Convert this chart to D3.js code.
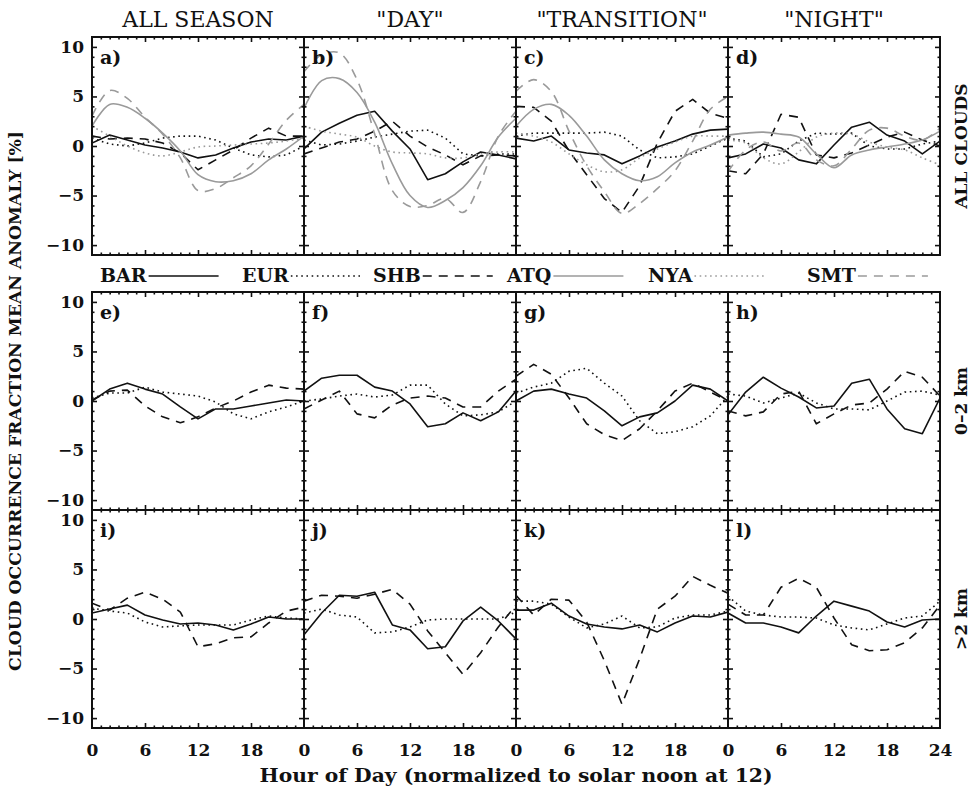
<!DOCTYPE html>
<html>
<head>
<meta charset="utf-8">
<script src="https://cdn.jsdelivr.net/npm/d3@7"></script>
<style>
  body { margin: 0; background: #fff; }
  svg { display: block; font-family: "DejaVu Serif", serif; }
</style>
</head>
<body>
<svg id="chart" width="972" height="790"></svg>
<script>
(function () {
  const HOURS = [0, 2, 4, 6, 8, 10, 12, 14, 16, 18, 20, 22, 24];
  const SITES = ['BAR', 'EUR', 'SHB', 'ATQ', 'NYA', 'SMT'];
  const COLUMN_TITLES = ['ALL SEASON', '"DAY"', '"TRANSITION"', '"NIGHT"'];
  const ROW_TITLES = ['ALL CLOUDS', '0\u20132 km', '>2 km'];
  const PANEL_LETTERS = ['a)', 'b)', 'c)', 'd)', 'e)', 'f)', 'g)', 'h)', 'i)', 'j)', 'k)', 'l)'];
  const X_TICKS = [0, 6, 12, 18];
  const X_TICKS_LAST = [0, 6, 12, 18, 24];
  const Y_TICKS = [10, 5, 0, -5, -10];

  const PANEL_A = {
    BAR: [0.3, 1.1, 0.6, 0.1, -0.2, -0.6, -1.2, -0.9, -0.2, 0.4, 0.7, 0.6, 1.0],
    EUR: [0.8, 0.2, 0.0, 0.3, 0.8, 1.0, 1.0, 0.6, -0.2, -0.9, -1.1, -0.9, 0.0],
    SHB: [1.0, 0.7, 0.8, 0.7, 0.3, -0.7, -2.4, -1.4, -0.4, 0.8, 1.8, 1.0, 1.0],
    ATQ: [2.0, 4.2, 3.9, 2.8, 1.3, -0.5, -2.9, -3.6, -3.5, -2.8, -1.4, -0.3, 1.0],
    NYA: [2.0, 1.0, 0.0, -0.7, -1.0, -0.6, -0.1, 0.0, 0.1, 0.2, 0.3, 0.5, 0.8],
    SMT: [3.0, 5.6, 4.8, 2.9, 1.2, -1.2, -4.5, -4.3, -3.2, -2.0, 0.2, 2.6, 4.2]
  };
  const PANEL_B = {
    BAR: [-0.3, 1.4, 2.3, 3.1, 3.5, 1.5, -0.3, -3.4, -2.8, -1.6, -0.6, -0.9, -1.3],
    EUR: [0.6, 0.1, 0.2, 0.5, 0.9, 1.2, 1.5, 1.6, 0.8, -0.8, -1.0, -0.8, -0.8],
    SHB: [-0.8, -0.2, 0.4, 0.7, 1.5, 2.5, 1.0, -0.1, -0.9, -1.9, -1.0, -0.9, -1.0],
    ATQ: [3.8, 6.6, 6.8, 5.4, 2.4, -1.8, -5.0, -6.2, -5.5, -4.2, -2.0, 0.9, 2.8],
    NYA: [2.0, 1.5, 1.2, 0.9, 0.0, -0.6, -0.7, -0.8, -1.2, -1.2, -0.8, -0.6, -0.6],
    SMT: [7.5, 9.2, 9.4, 6.7, 1.2, -4.5, -6.1, -6.0, -5.3, -6.7, -3.6, 1.0, 3.5]
  };
  const PANEL_C = {
    BAR: [0.8, 0.5, 1.0, -0.4, -0.7, -0.9, -1.8, -1.0, -0.1, 0.5, 1.2, 1.6, 1.7],
    EUR: [1.0, 1.3, 1.3, 1.3, 1.3, 1.4, 1.0, -0.4, -1.2, -1.1, -0.8, 0.0, 0.8],
    SHB: [4.0, 3.9, 2.5, -0.5, -2.9, -5.3, -6.7, -4.0, 0.3, 3.5, 4.7, 3.3, 2.8],
    ATQ: [2.0, 3.7, 4.2, 3.1, 1.0, -1.4, -2.8, -3.5, -3.1, -1.7, -0.6, 0.1, 0.9],
    NYA: [1.3, 1.0, 0.4, -0.8, -1.9, -2.6, -2.4, -1.2, -0.3, 0.4, 1.0, 1.0, 1.0],
    SMT: [5.5, 6.7, 5.5, 1.5, -2.0, -4.6, -6.8, -5.8, -4.3, -2.5, 0.5, 3.7, 5.0]
  };
  const PANEL_D = {
    BAR: [-1.2, -0.8, 0.2, -0.2, -1.4, -1.8, 0.1, 1.9, 2.4, 1.1, 0.5, -0.8, 0.5],
    EUR: [0.8, 0.5, -1.1, -0.8, 0.5, 1.3, 1.2, 1.3, 0.0, -0.3, -0.3, 0.2, 0.5],
    SHB: [-2.5, -2.8, -0.8, 3.2, 2.9, -0.9, -1.2, -0.7, 0.1, 0.9, 1.4, 0.6, 0.0],
    ATQ: [1.1, 1.3, 1.4, 1.2, 0.9, -0.8, -2.2, -0.9, -0.4, -0.1, 0.2, 0.6, 1.5],
    NYA: [0.6, 0.3, -1.2, -1.8, -0.6, 0.9, 1.3, 1.2, 0.4, -0.1, -0.4, -1.2, -1.9],
    SMT: [-2.6, -0.4, 0.4, -0.5, 0.3, -1.4, -2.0, -0.3, 1.6, 1.8, 1.0, 0.6, 1.8]
  };
  const PANEL_E = {
    BAR: [0.0, 1.2, 1.8, 1.2, 0.7, -0.6, -1.8, -0.8, -0.8, -0.5, -0.2, 0.1, 0.0],
    EUR: [0.3, 0.8, 0.8, 1.4, 0.9, 0.7, 0.5, -0.1, -1.3, -1.8, -1.1, -0.6, 0.0],
    SHB: [0.1, 1.0, 1.1, -0.5, -1.6, -2.2, -1.6, -0.7, 0.0, 0.9, 1.6, 1.3, 1.2]
  };
  const PANEL_F = {
    BAR: [1.0, 2.3, 2.6, 2.6, 1.4, 1.0, -0.3, -2.6, -2.3, -1.2, -2.0, -1.1, 1.0],
    EUR: [0.0, 0.2, 0.5, 0.7, 0.4, 0.6, 1.6, 1.6, -0.3, -1.5, -1.4, -1.1, 0.0],
    SHB: [-0.8, 0.1, 1.0, -1.3, -1.7, -0.4, 0.3, 0.5, 0.3, -0.6, -0.6, 1.0, 2.2]
  };
  const PANEL_G = {
    BAR: [0.0, 1.0, 1.2, 0.7, 0.3, -1.0, -2.5, -1.6, -1.2, 0.0, 1.6, 1.2, 0.0],
    EUR: [0.8, 1.4, 1.8, 3.0, 3.3, 1.8, 0.5, -2.0, -3.3, -3.1, -2.6, -1.5, 0.5],
    SHB: [2.5, 3.7, 2.7, 0.3, -2.3, -3.4, -4.0, -2.8, -1.0, 1.0, 1.8, 0.9, 0.0]
  };
  const PANEL_H = {
    BAR: [-1.4, 0.9, 2.4, 1.3, 0.4, -0.7, -0.5, 1.8, 2.2, -0.8, -2.8, -3.3, 0.3],
    EUR: [0.7, 0.5, -0.2, 0.3, 0.8, -0.2, -0.8, -0.8, -0.9, 0.0, 0.9, 1.0, 0.6],
    SHB: [-1.0, -1.5, -1.1, 0.7, 1.0, -2.3, -1.3, -0.4, -0.2, 1.2, 3.0, 2.4, 0.5]
  };
  const PANEL_I = {
    BAR: [0.6, 1.0, 1.4, 0.4, -0.1, -0.5, -0.4, -0.6, -1.1, -0.5, 0.2, 0.0, 0.0],
    EUR: [1.1, 0.8, 0.6, -0.3, -0.8, -0.7, -0.6, -0.6, -0.6, -0.1, 0.3, 0.1, 0.0],
    SHB: [1.6, 0.9, 2.1, 2.7, 2.0, 0.7, -2.8, -2.5, -1.9, -1.8, -0.4, 0.8, 1.2]
  };
  const PANEL_J = {
    BAR: [-1.6, 0.6, 2.4, 2.3, 2.7, -0.6, -1.1, -3.0, -2.8, -0.2, 1.2, -0.2, -2.0],
    EUR: [0.6, 1.0, 0.4, 0.2, -1.4, -1.3, -0.8, -0.1, 0.0, 0.0, 0.0, 0.0, 0.7],
    SHB: [1.8, 2.4, 2.3, 2.1, 2.5, 3.0, 1.5, -1.2, -3.4, -5.6, -3.4, -0.8, 1.4]
  };
  const PANEL_K = {
    BAR: [0.9, 0.9, 1.6, 0.3, -0.5, -0.8, -1.0, -0.6, -1.3, -0.4, 0.3, 0.2, 0.7],
    EUR: [1.8, 1.8, 1.5, 0.2, -0.9, -0.5, 0.3, -0.9, -0.8, 0.1, 0.4, 0.4, 0.8],
    SHB: [2.4, 0.4, 2.0, 1.9, -0.3, -4.2, -8.6, -4.0, 1.0, 2.3, 4.3, 3.4, 2.6]
  };
  const PANEL_L = {
    BAR: [0.6, -0.4, -0.4, -0.8, -1.4, 0.3, 1.8, 1.3, 0.8, -0.3, -0.8, -0.1, 0.0],
    EUR: [2.3, 0.8, 0.4, 0.2, 0.2, 0.1, -0.6, -0.9, -1.1, -0.5, 0.1, 0.3, 1.8],
    SHB: [1.5, 0.4, 0.4, 3.2, 4.1, 3.2, 0.1, -2.6, -3.2, -3.1, -2.4, -0.9, 1.4]
  };

  const PANELS = [
    [PANEL_A, PANEL_B, PANEL_C, PANEL_D],
    [PANEL_E, PANEL_F, PANEL_G, PANEL_H],
    [PANEL_I, PANEL_J, PANEL_K, PANEL_L]
  ];

  // ---- layout ----
  const LEFT = 92;
  const PANEL_W = 212;
  const PANEL_H_PX = 218;
  const ROW_TOPS = [37, 292, 510];
  const MAJOR = 5, MINOR = 2.5;
  const GRAY = '#9a9a9a';
  const LEGEND_X = [100, 242, 373, 507, 648, 807];

  const STYLE = {
    BAR: { color: '#111', dash: null, curve: d3.curveLinear },
    EUR: { color: '#111', dash: '1.6,3.6', curve: d3.curveLinear },
    SHB: { color: '#111', dash: '9,7', curve: d3.curveLinear },
    ATQ: { color: GRAY, dash: null, curve: d3.curveCatmullRom.alpha(0.5) },
    NYA: { color: GRAY, dash: '1.6,3.6', curve: d3.curveCatmullRom.alpha(0.5) },
    SMT: { color: GRAY, dash: '9,7', curve: d3.curveCatmullRom.alpha(0.5) }
  };

  const svg = d3.select('#chart');
  const defs = svg.append('defs');

  const fmt = d => d < 0 ? '\u2212' + (-d) : String(d);

  function tickAxis(axisFn, scale, values, size) {
    return axisFn(scale).tickValues(values).tickSize(-size).tickFormat('');
  }

  PANELS.forEach((rowPanels, row) => {
    const top = ROW_TOPS[row];
    const y = d3.scaleLinear().domain([-11, 11]).range([top + PANEL_H_PX, top]);

    rowPanels.forEach((panel, col) => {
      const x0 = LEFT + col * PANEL_W;
      const x = d3.scaleLinear().domain([0, 24]).range([x0, x0 + PANEL_W]);
      const g = svg.append('g');
      const clipId = 'clip-' + row + '-' + col;

      defs.append('clipPath').attr('id', clipId)
        .append('rect')
        .attr('x', x0).attr('y', top)
        .attr('width', PANEL_W).attr('height', PANEL_H_PX);

      // curves
      const lines = g.append('g').attr('clip-path', `url(#${clipId})`);
      SITES.filter(s => panel[s]).forEach(site => {
        const st = STYLE[site];
        const line = d3.line()
          .x((d, i) => x(HOURS[i]))
          .y(d => y(d))
          .curve(st.curve);
        lines.append('path')
          .datum(panel[site])
          .attr('d', line)
          .attr('fill', 'none')
          .attr('stroke', st.color)
          .attr('stroke-width', 1.6)
          .attr('stroke-dasharray', st.dash)
          .attr('stroke-linejoin', 'round');
      });

      // inward ticks on all four sides
      const xMinor = d3.range(1, 24).filter(h => h % 6 !== 0);
      const yMinor = d3.range(-10, 11).filter(v => v % 5 !== 0);
      const ticks = g.append('g').attr('class', 'ticks');
      ticks.append('g').attr('transform', `translate(0,${top + PANEL_H_PX})`)
        .call(tickAxis(d3.axisBottom, x, [6, 12, 18], MAJOR));
      ticks.append('g').attr('transform', `translate(0,${top + PANEL_H_PX})`)
        .call(tickAxis(d3.axisBottom, x, xMinor, MINOR));
      ticks.append('g').attr('transform', `translate(0,${top})`)
        .call(tickAxis(d3.axisTop, x, [6, 12, 18], MAJOR));
      ticks.append('g').attr('transform', `translate(0,${top})`)
        .call(tickAxis(d3.axisTop, x, xMinor, MINOR));
      ticks.append('g').attr('transform', `translate(${x0},0)`)
        .call(tickAxis(d3.axisLeft, y, Y_TICKS, MAJOR));
      ticks.append('g').attr('transform', `translate(${x0},0)`)
        .call(tickAxis(d3.axisLeft, y, yMinor, MINOR));
      ticks.append('g').attr('transform', `translate(${x0 + PANEL_W},0)`)
        .call(tickAxis(d3.axisRight, y, Y_TICKS, MAJOR));
      ticks.append('g').attr('transform', `translate(${x0 + PANEL_W},0)`)
        .call(tickAxis(d3.axisRight, y, yMinor, MINOR));
      ticks.selectAll('.domain').remove();
      ticks.selectAll('line').attr('stroke', '#111').attr('stroke-width', 1.6);

      // frame
      g.append('rect')
        .attr('x', x0).attr('y', top)
        .attr('width', PANEL_W).attr('height', PANEL_H_PX)
        .attr('fill', 'none')
        .attr('stroke', '#111')
        .attr('stroke-width', 2);

      // panel letter
      g.append('text')
        .attr('x', x0 + 8).attr('y', top + 27)
        .attr('font-size', 19).attr('font-weight', 'bold')
        .attr('fill', '#111')
        .text(PANEL_LETTERS[row * 4 + col]);

      // tick labels
      if (col === 0) {
        const ax = g.append('g').attr('transform', `translate(${x0},0)`)
          .call(d3.axisLeft(y).tickValues(Y_TICKS).tickSize(0).tickPadding(8).tickFormat(fmt));
        ax.select('.domain').remove();
        ax.selectAll('text').attr('font-size', 17).attr('font-weight', 'bold')
          .attr('font-family', '"DejaVu Serif", serif').attr('fill', '#111');
      }
      if (row === 2) {
        const ax = g.append('g').attr('transform', `translate(0,${top + PANEL_H_PX})`)
          .call(d3.axisBottom(x).tickValues(col === 3 ? X_TICKS_LAST : X_TICKS)
            .tickSize(0).tickPadding(16).tickFormat(fmt));
        ax.select('.domain').remove();
        ax.selectAll('text').attr('font-size', 17).attr('font-weight', 'bold')
          .attr('font-family', '"DejaVu Serif", serif').attr('fill', '#111');
      }
    });

    // row title on the right
    svg.append('text')
      .attr('transform', `translate(967,${top + PANEL_H_PX / 2}) rotate(-90)`)
      .attr('text-anchor', 'middle')
      .attr('font-size', 17).attr('font-weight', 'bold')
      .attr('fill', '#111')
      .text(ROW_TITLES[row]);
  });

  // column titles
  COLUMN_TITLES.forEach((t, col) => {
    svg.append('text')
      .attr('x', LEFT + col * PANEL_W + PANEL_W / 2)
      .attr('y', 27)
      .attr('text-anchor', 'middle')
      .attr('font-size', 22)
      .attr('fill', '#111')
      .text(t);
  });

  // legend
  const legend = svg.append('g');
  SITES.forEach((site, i) => {
    const st = STYLE[site];
    const txt = legend.append('text')
      .attr('x', LEGEND_X[i]).attr('y', 282)
      .attr('font-size', 19).attr('font-weight', 'bold')
      .attr('fill', '#111')
      .text(site);
    const end = LEGEND_X[i] + txt.node().getComputedTextLength();
    legend.append('line')
      .attr('x1', end + 2).attr('x2', end + 72)
      .attr('y1', 276).attr('y2', 276)
      .attr('stroke', st.color)
      .attr('stroke-width', 1.6)
      .attr('stroke-dasharray', st.dash);
  });

  // axis titles
  svg.append('text')
    .attr('x', 516).attr('y', 782)
    .attr('text-anchor', 'middle')
    .attr('font-size', 18).attr('font-weight', 'bold')
    .attr('fill', '#111')
    .attr('textLength', 513).attr('lengthAdjust', 'spacingAndGlyphs')
    .text('Hour of Day (normalized to solar noon at 12)');

  svg.append('text')
    .attr('transform', 'translate(21,401) rotate(-90)')
    .attr('text-anchor', 'middle')
    .attr('font-size', 17).attr('font-weight', 'bold')
    .attr('fill', '#111')
    .attr('textLength', 540).attr('lengthAdjust', 'spacingAndGlyphs')
    .text('CLOUD OCCURRENCE FRACTION MEAN ANOMALY [%]');
})();
</script>
</body>
</html>
